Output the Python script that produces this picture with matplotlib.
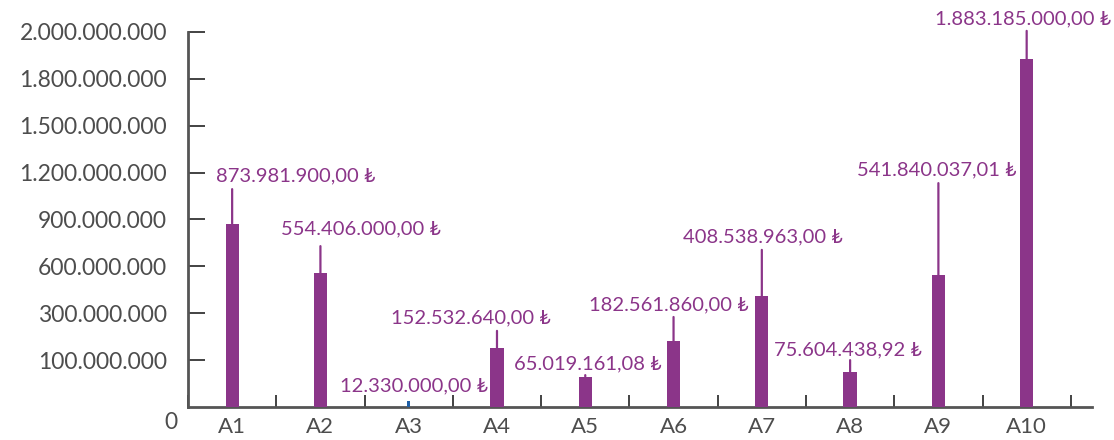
import numpy as np
import matplotlib
matplotlib.use('Agg')
import matplotlib.pyplot as plt
from matplotlib.transforms import ScaledTranslation

plt.rcParams['font.family'] = ['Lato', 'DejaVu Sans']

# data
categories = ['A1', 'A2', 'A3', 'A4', 'A5', 'A6', 'A7', 'A8', 'A9', 'A10']
values = [873981900.00, 554406000.00, 12330000.00, 152532640.00, 65019161.08,
          182561860.00, 408538963.00, 75604438.92, 541840037.01, 1883185000.00]
value_labels = ['873.981.900,00 ₺', '554.406.000,00 ₺', '12.330.000,00 ₺',
                '152.532.640,00 ₺', '65.019.161,08 ₺', '182.561.860,00 ₺',
                '408.538.963,00 ₺', '75.604.438,92 ₺', '541.840.037,01 ₺',
                '1.883.185.000,00 ₺']
y_ticks = [0, 100000000, 300000000, 600000000, 900000000,
           1200000000, 1500000000, 1800000000, 2000000000]
y_ticklabels = ['0', '100.000.000', '300.000.000', '600.000.000', '900.000.000',
                '1.200.000.000', '1.500.000.000', '1.800.000.000', '2.000.000.000']

# label placement (axes fraction height of text, top of leader line, x shift in px)
label_y = [0.616, 0.475, 0.056, 0.237, 0.115, 0.272, 0.453, 0.152, 0.632, 1.034]
line_top = [0.581, 0.429, None, 0.203, 0.085, 0.240, 0.419, 0.125, 0.597, 1.003]
label_dx = [64, 41, 5, -26, 3, -5, 1, -2, -2, -4]

purple = '#8b3589'
blue = '#1f5fa6'
gray = '#4d4d4d'

tick_pos = np.arange(len(y_ticks))


def fwd(v):
    return np.interp(v, y_ticks, tick_pos)


def inv(p):
    return np.interp(p, tick_pos, y_ticks)


fig = plt.figure(figsize=(11.14, 4.40), dpi=100)
ax = fig.add_axes([188 / 1114, 33 / 440, 904 / 1114, 375 / 440])
ax.set_yscale('function', functions=(fwd, inv))
ax.set_ylim(0, 2000000000)
ax.set_xlim(-0.5, 9.74)

x = np.arange(len(categories))
colors = [blue if i == 2 else purple for i in range(len(categories))]
widths = [0.03 if i == 2 else 0.15 for i in range(len(categories))]
ax.bar(x, values, width=widths, color=colors, zorder=3)

trans = ax.get_xaxis_transform()
for i in range(len(categories)):
    ax.annotate(value_labels[i], xy=(i, label_y[i]), xycoords=trans,
                xytext=(label_dx[i], 0), textcoords='offset pixels',
                ha='center', va='center', fontsize=14.5, color=purple,
                annotation_clip=False)
    if line_top[i] is not None:
        ax.annotate('', xy=(i, values[i]), xycoords='data',
                    xytext=(i, line_top[i]), textcoords=trans,
                    arrowprops=dict(arrowstyle='-', color=purple, lw=1.6,
                                    shrinkA=0, shrinkB=0))

# y axis
ax.set_yticks(y_ticks)
ax.set_yticklabels(y_ticklabels)
ax.set_yticks([2000000000], minor=True)
ax.tick_params(axis='y', which='major', direction='in', length=12, width=1.2,
               color='#222222', labelsize=16.5, labelcolor=gray, pad=15)
ax.tick_params(axis='y', which='minor', direction='in', length=21, width=1.2,
               color='#222222')
ylabs = ax.get_yticklabels()
ylabs[0].set_transform(ylabs[0].get_transform() +
                       ScaledTranslation(0.1, -0.13, fig.dpi_scale_trans))
ax.yaxis.get_major_ticks()[0].tick1line.set_visible(False)

# x axis
ax.set_xticks(np.arange(-0.5, 10, 1.0))
ax.set_xticklabels([])
ax.set_xticks(x, minor=True)
ax.set_xticklabels(categories, minor=True)
ax.tick_params(axis='x', which='major', direction='in', length=9, width=1.2,
               color='#222222')
ax.tick_params(axis='x', which='minor', length=0, labelsize=16,
               labelcolor=gray, pad=7)

for s in ['top', 'right']:
    ax.spines[s].set_visible(False)
for s in ['left', 'bottom']:
    ax.spines[s].set_color('#555555')
    ax.spines[s].set_linewidth(2)

fig.savefig('out.png', dpi=100)
